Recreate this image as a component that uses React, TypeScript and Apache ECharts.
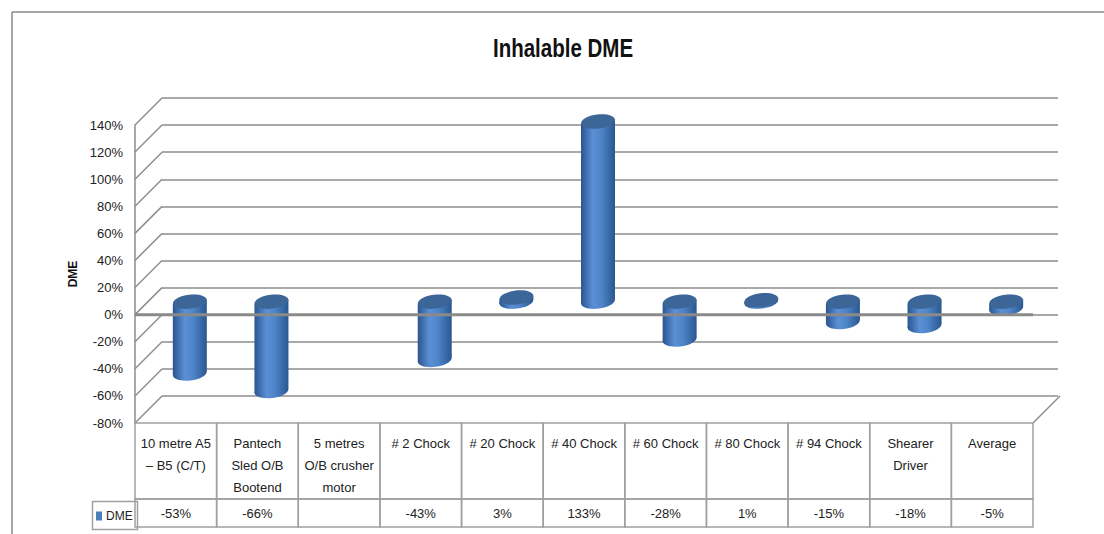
import { useEffect, useRef } from "react";
import * as echarts from "echarts";

const chartTitle = "Inhalable DME";
const seriesName = "DME";
const categories = [
  "10 metre A5\n– B5 (C/T)",
  "Pantech\nSled O/B\nBootend",
  "5 metres\nO/B crusher\nmotor",
  "# 2 Chock",
  "# 20 Chock",
  "# 40 Chock",
  "# 60 Chock",
  "# 80 Chock",
  "# 94 Chock",
  "Shearer\nDriver",
  "Average",
];
const dmeValues: (number | null)[] = [-53, -66, null, -43, 3, 133, -28, 1, -15, -18, -5];
const yTicks = [-80, -60, -40, -20, 0, 20, 40, 60, 80, 100, 120, 140];

const FONT = "'Liberation Sans', Arial, sans-serif";
const FS = 13;
const GRID_COLOR = "#8c8c8c";
const FRONT = { left: 135, top: 125, width: 898, height: 298 };
const DX = 27;
const DY = -27;
const HEADER_H = 76;
const ROW_H = 28;

export default function App() {
  const ref = useRef<HTMLDivElement>(null);
  useEffect(() => {
    if (!ref.current) return;
    const chart = echarts.init(ref.current, undefined, { renderer: "svg" });

    const cylinder = (params: any, api: any) => {
      const v = api.value(1);
      if (v === null || v === undefined || isNaN(v)) return null;
      const i = api.value(0);
      const p0 = api.coord([i, 0]);
      const p1 = api.coord([i, v]);
      const cx = p0[0] + 14;
      const off = -13;
      const yTop = Math.min(p0[1], p1[1]) + off;
      const yBot = Math.max(p0[1], p1[1]) + off;
      const rx = 17;
      const ry = 7;
      const rot = 0.12;
      const t = rx * Math.sin(rot);
      const grad = new echarts.graphic.LinearGradient(0, 0, 1, 0, [
        { offset: 0, color: "#2b558f" },
        { offset: 0.35, color: "#5b90d6" },
        { offset: 0.6, color: "#4e84c8" },
        { offset: 1, color: "#2a578f" },
      ]);
      return {
        type: "group",
        children: [
          {
            type: "ellipse",
            x: cx,
            y: yBot,
            rotation: rot,
            shape: { cx: 0, cy: 0, rx, ry },
            style: { fill: grad },
          },
          {
            type: "polygon",
            shape: {
              points: [
                [cx - rx, yTop + t],
                [cx + rx, yTop - t],
                [cx + rx, yBot - t],
                [cx - rx, yBot + t],
              ],
            },
            style: { fill: grad },
          },
          {
            type: "ellipse",
            x: cx,
            y: yTop,
            rotation: rot,
            shape: { cx: 0, cy: 0, rx, ry },
            style: { fill: "#3d6698" },
          },
        ],
      };
    };

    const walls = (params: any, api: any) => {
      const cs = params.coordSys;
      const v = api.value(1);
      const y = api.coord([0, v])[1];
      const x0 = cs.x;
      const children: any[] = [
        {
          type: "line",
          shape: { x1: x0, y1: y, x2: x0 + DX, y2: y + DY },
          style: { stroke: GRID_COLOR, lineWidth: 1.5 },
        },
      ];
      if (v === yTicks[0]) {
        children.push({
          type: "line",
          shape: { x1: x0 + cs.width, y1: y, x2: x0 + cs.width + DX, y2: y + DY },
          style: { stroke: GRID_COLOR, lineWidth: 1.5 },
        });
      }
      return { type: "group", children };
    };

    const zeroLine = (params: any, api: any) => {
      const cs = params.coordSys;
      const y = api.coord([0, api.value(1)])[1];
      return {
        type: "line",
        shape: { x1: cs.x, y1: y, x2: cs.x + cs.width, y2: y },
        style: { stroke: "#8a8a8a", lineWidth: 3 },
      };
    };

    const table = (params: any, api: any) => {
      const cs = params.coordSys;
      const i = api.value(0);
      const cx = api.coord([i, 0])[0];
      const bw = api.size([1, 0])[0];
      const top = cs.y + cs.height;
      const v = dmeValues[i];
      return {
        type: "group",
        children: [
          {
            type: "rect",
            shape: { x: cx - bw / 2, y: top, width: bw, height: HEADER_H },
            style: { fill: "none", stroke: "#a0a0a0", lineWidth: 1.5 },
          },
          {
            type: "rect",
            shape: { x: cx - bw / 2, y: top + HEADER_H, width: bw, height: ROW_H },
            style: { fill: "none", stroke: "#a0a0a0", lineWidth: 1.5 },
          },
          {
            type: "text",
            x: cx,
            y: top + HEADER_H + ROW_H / 2,
            style: {
              text: v === null ? "" : `${v}%`,
              fill: "#222",
              font: `${FS}px ${FONT}`,
              textAlign: "center",
              textVerticalAlign: "middle",
            },
          },
        ],
      };
    };

    chart.setOption({
      animation: false,
      textStyle: { fontFamily: FONT },
      legend: {
        data: [seriesName],
        left: 91,
        top: 505,
        icon: "rect",
        itemWidth: 6,
        itemHeight: 9,
        itemGap: 4,
        textStyle: { fontFamily: FONT, fontSize: 12, color: "#222", padding: [0, 0, 0, -1] },
      },
      grid: [
        { ...FRONT },
        { left: FRONT.left + DX, top: FRONT.top + DY, width: FRONT.width - 2, height: FRONT.height },
      ],
      xAxis: [
        {
          type: "category",
          gridIndex: 0,
          data: categories,
          axisLine: { show: false },
          axisTick: { show: false },
          axisLabel: {
            interval: 0,
            fontSize: FS,
            lineHeight: 22,
            color: "#222",
            margin: 9,
            verticalAlign: "top",
            fontFamily: FONT,
          },
        },
        { type: "category", gridIndex: 1, data: categories, show: false },
      ],
      yAxis: [
        {
          type: "value",
          gridIndex: 0,
          min: -80,
          max: 140,
          interval: 20,
          splitLine: { show: false },
          axisLine: { show: true, lineStyle: { color: GRID_COLOR, width: 1.5 } },
          axisTick: { show: false },
          axisLabel: { formatter: "{value}%", fontSize: FS, color: "#222", margin: 12, fontFamily: FONT },
          name: seriesName,
          nameLocation: "middle",
          nameRotate: 90,
          nameGap: 41,
          nameTextStyle: { fontFamily: FONT, fontSize: 12, fontWeight: "bold", color: "#111" },
        },
        {
          type: "value",
          gridIndex: 1,
          min: -80,
          max: 140,
          interval: 20,
          splitLine: { show: true, lineStyle: { color: GRID_COLOR, width: 1.5 } },
          axisLine: { show: false },
          axisTick: { show: false },
          axisLabel: { show: false },
        },
      ],
      series: [
        {
          type: "custom",
          name: "walls",
          xAxisIndex: 0,
          yAxisIndex: 0,
          renderItem: walls,
          data: yTicks.map((v) => [0, v]),
          silent: true,
          z: 1,
        },
        {
          type: "custom",
          name: seriesName,
          xAxisIndex: 0,
          yAxisIndex: 0,
          itemStyle: { color: "#4a7ebb" },
          renderItem: cylinder,
          data: dmeValues.map((v, i) => [i, v === null ? "-" : v]),
          z: 3,
        },
        {
          type: "custom",
          name: "zero",
          xAxisIndex: 0,
          yAxisIndex: 0,
          renderItem: zeroLine,
          data: [[0, 0]],
          silent: true,
          z: 4,
        },
        {
          type: "custom",
          name: "table",
          xAxisIndex: 0,
          yAxisIndex: 0,
          renderItem: table,
          data: categories.map((_, i) => [i, 0]),
          silent: true,
          clip: false,
          z: 2,
        },
      ],
      graphic: [
        {
          type: "text",
          x: 563,
          y: 48,
          scaleX: 0.82,
          style: {
            text: chartTitle,
            font: `bold 25px ${FONT}`,
            fill: "#111",
            textAlign: "center",
            textVerticalAlign: "middle",
          },
        },
        {
          type: "rect",
          left: 90,
          top: FRONT.top + FRONT.height + HEADER_H,
          shape: { width: 45, height: ROW_H },
          style: { fill: "none", stroke: "#a0a0a0", lineWidth: 1.5 },
        },
        {
          type: "line",
          shape: { x1: 12, y1: 12, x2: 1104, y2: 12 },
          style: { stroke: "#8a8a8a", lineWidth: 1.5 },
        },
        {
          type: "line",
          shape: { x1: 12, y1: 12, x2: 12, y2: 534 },
          style: { stroke: "#8a8a8a", lineWidth: 1.5 },
        },
      ],
    });
    return () => chart.dispose();
  }, []);
  return (
    <div
      ref={ref}
      style={{ position: "fixed", left: 0, top: 0, width: 1104, height: 534, background: "#fff" }}
    />
  );
}
